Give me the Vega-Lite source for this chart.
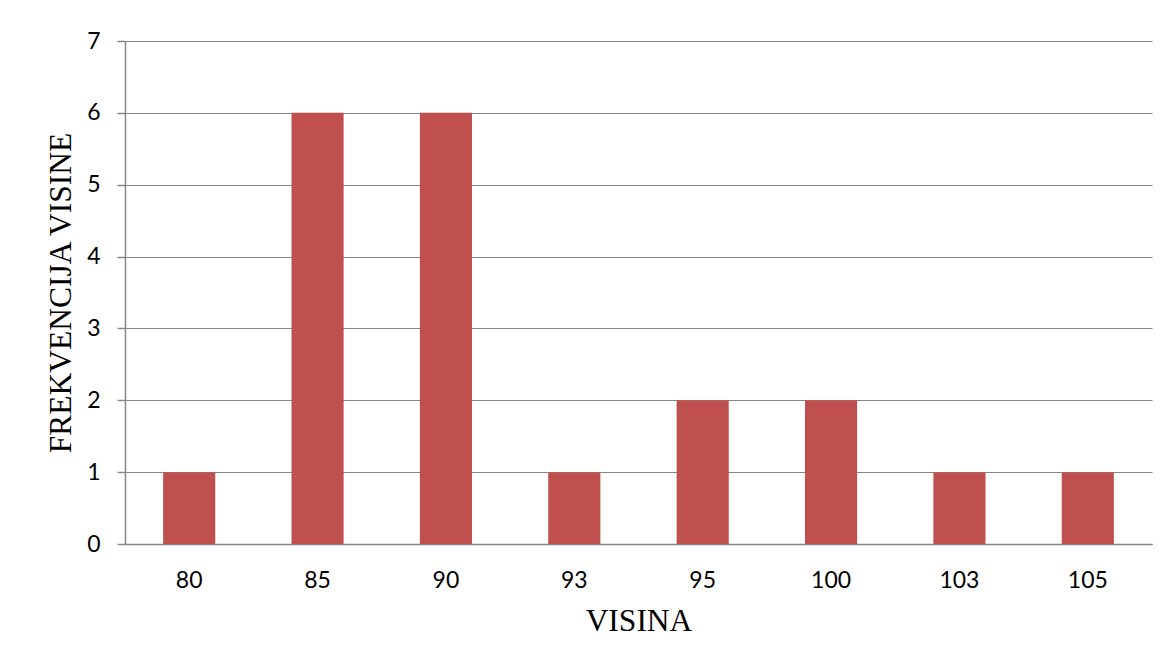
{
  "$schema": "https://vega.github.io/schema/vega-lite/v6.json",
  "autosize": {"type": "none"},
  "width": 1027,
  "height": 503,
  "padding": {"left": 125, "top": 41, "right": 18, "bottom": 121},
  "background": "white",
  "data": {"values": [
    {"visina": "80", "frekvencija": 1},
    {"visina": "85", "frekvencija": 6},
    {"visina": "90", "frekvencija": 6},
    {"visina": "93", "frekvencija": 1},
    {"visina": "95", "frekvencija": 2},
    {"visina": "100", "frekvencija": 2},
    {"visina": "103", "frekvencija": 1},
    {"visina": "105", "frekvencija": 1}
  ]},
  "mark": {"type": "bar", "color": "#C0504D"},
  "encoding": {
    "x": {
      "field": "visina", "type": "ordinal", "sort": null,
      "scale": {"paddingInner": 0.594, "paddingOuter": 0.297},
      "axis": {
        "title": "VISINA", "titleFont": "Liberation Serif", "titleFontSize": 31.5, "titleFontWeight": "normal", "titleColor": "black",
        "titlePadding": 13,
        "labelFont": "Lato", "labelFontSize": 23, "labelColor": "black", "labelAngle": 0, "labelPadding": 25,
        "ticks": false, "domainColor": "#868686", "domainWidth": 1.5, "grid": false
      }
    },
    "y": {
      "field": "frekvencija", "type": "quantitative",
      "scale": {"domain": [0, 7], "nice": false},
      "axis": {
        "title": "FREKVENCIJA VISINE", "titleFont": "Liberation Serif", "titleFontSize": 31.5, "titleFontWeight": "normal", "titleColor": "black",
        "titlePadding": 9,
        "values": [0, 1, 2, 3, 4, 5, 6, 7], "format": "d",
        "labelFont": "Lato", "labelFontSize": 23, "labelColor": "black", "labelPadding": 17,
        "tickSize": 8, "tickColor": "#868686", "tickWidth": 1.5,
        "domainColor": "#868686", "domainWidth": 1.5,
        "grid": true, "gridColor": "#868686", "gridWidth": 1.2
      }
    }
  },
  "config": {"view": {"stroke": null}}
}
